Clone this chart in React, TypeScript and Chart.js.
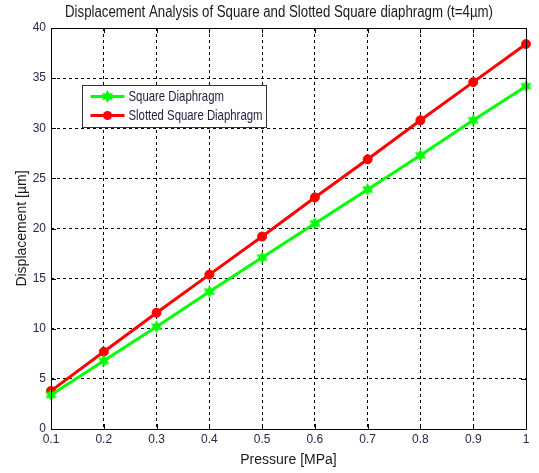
import React, { useEffect, useRef } from 'react';
import { Chart, registerables } from 'chart.js';
Chart.register(...registerables);

const pressureLabels = ['0.1', '0.2', '0.3', '0.4', '0.5', '0.6', '0.7', '0.8', '0.9', '1'];
const squareDiaphragm = [3.4, 6.8, 10.2, 13.7, 17.1, 20.5, 23.9, 27.3, 30.8, 34.2];
const slottedSquareDiaphragm = [3.8, 7.7, 11.6, 15.4, 19.2, 23.1, 26.9, 30.8, 34.6, 38.4];
const yMin = 0;
const yMax = 40;
const yStep = 5;

const titleText = 'Displacement Analysis of Square and Slotted Square diaphragm (t=4\u00b5m)';
const xTitle = 'Pressure [MPa]';
const yTitle = 'Displacement [\u00b5m]';
const seriesNames = ['Square Diaphragm', 'Slotted Square Diaphragm'];
const GREEN = '#00ff00';
const RED = '#ff0000';
const FONT = '"Liberation Sans", Arial, sans-serif';

function makeHexagram(color: string, r: number) {
  const c = document.createElement('canvas');
  const s = Math.ceil(r * 2 + 2);
  c.width = s;
  c.height = s;
  const ctx = c.getContext('2d')!;
  ctx.fillStyle = color;
  ctx.beginPath();
  for (let i = 0; i < 12; i++) {
    const rad = i % 2 === 0 ? r : r * 0.55;
    const a = -Math.PI / 2 + (i * Math.PI) / 6;
    const x = s / 2 + rad * Math.cos(a);
    const y = s / 2 + rad * Math.sin(a);
    if (i === 0) ctx.moveTo(x, y);
    else ctx.lineTo(x, y);
  }
  ctx.closePath();
  ctx.fill();
  return c;
}

// draw text horizontally condensed to a target width
function drawCondensed(ctx: CanvasRenderingContext2D, text: string, x: number, y: number, sx: number, align: 'left' | 'center') {
  ctx.save();
  ctx.translate(x, y);
  ctx.scale(sx, 1);
  ctx.textAlign = align;
  ctx.textBaseline = 'middle';
  ctx.fillText(text, 0, 0);
  ctx.restore();
}

const titlePlugin = {
  id: 'customTitle',
  afterDraw(chart: any) {
    const { ctx } = chart;
    ctx.save();
    ctx.fillStyle = '#1a1a1a';
    ctx.font = '16px ' + FONT;
    const w = ctx.measureText(titleText).width;
    drawCondensed(ctx, titleText, 279, 13, 428 / w, 'center');
    ctx.restore();
  },
};

const framePlugin = {
  id: 'matlabFrame',
  afterDatasetsDraw(chart: any) {
    const { ctx, chartArea } = chart;
    const { left, right, top, bottom } = chartArea;
    const xs = chart.scales.x;
    const ys = chart.scales.y;
    ctx.save();
    ctx.strokeStyle = '#000';
    ctx.lineWidth = 1;
    ctx.beginPath();
    ctx.rect(Math.round(left) + 0.5, Math.round(top) + 0.5, Math.round(right - left), Math.round(bottom - top));
    ctx.stroke();
    const tl = 5;
    ctx.beginPath();
    xs.ticks.forEach((_t: any, i: number) => {
      const x = Math.round(xs.getPixelForTick(i)) + 0.5;
      ctx.moveTo(x, top);
      ctx.lineTo(x, top + tl);
      ctx.moveTo(x, bottom);
      ctx.lineTo(x, bottom - tl);
    });
    ys.ticks.forEach((_t: any, i: number) => {
      const y = Math.round(ys.getPixelForTick(i)) + 0.5;
      ctx.moveTo(left, y);
      ctx.lineTo(left + tl, y);
      ctx.moveTo(right, y);
      ctx.lineTo(right - tl, y);
    });
    ctx.stroke();
    ctx.restore();
  },
};

const legendPlugin = {
  id: 'insideLegend',
  afterDraw(chart: any) {
    const { ctx } = chart;
    const bx = 82.5, by = 85.5, bw = 184, bh = 42;
    ctx.save();
    ctx.fillStyle = '#fff';
    ctx.fillRect(bx, by, bw, bh);
    ctx.strokeStyle = '#333';
    ctx.lineWidth = 1;
    ctx.strokeRect(bx, by, bw, bh);
    ctx.font = '15px ' + FONT;
    const sx = 134 / ctx.measureText(seriesNames[1]).width;
    const rows = [by + 11, by + 30];
    chart.data.datasets.forEach((ds: any, i: number) => {
      const y = rows[i];
      ctx.strokeStyle = ds.borderColor;
      ctx.lineWidth = 3;
      ctx.beginPath();
      ctx.moveTo(bx + 8, y);
      ctx.lineTo(bx + 42, y);
      ctx.stroke();
      const ps = ds.pointStyle;
      if (ps && typeof ps !== 'string') {
        ctx.drawImage(ps, bx + 25 - ps.width / 2, y - ps.height / 2);
      } else {
        ctx.fillStyle = ds.backgroundColor;
        ctx.beginPath();
        ctx.arc(bx + 25, y, 4.5, 0, Math.PI * 2);
        ctx.fill();
      }
      ctx.fillStyle = '#1e1e3c';
      drawCondensed(ctx, ds.label, bx + 46, y, sx, 'left');
    });
    ctx.restore();
  },
};

export default function App() {
  const ref = useRef<HTMLCanvasElement>(null);
  useEffect(() => {
    document.body.style.margin = '0';
    const star = makeHexagram(GREEN, 6.5);
    const chart = new Chart(ref.current!, {
      type: 'line',
      data: {
        labels: pressureLabels,
        datasets: [
          {
            label: seriesNames[0],
            data: squareDiaphragm,
            borderColor: GREEN,
            backgroundColor: GREEN,
            borderWidth: 3,
            pointStyle: star as any,
            pointRadius: 6,
          },
          {
            label: seriesNames[1],
            data: slottedSquareDiaphragm,
            borderColor: RED,
            backgroundColor: RED,
            borderWidth: 3,
            pointStyle: 'circle',
            pointRadius: 4.5,
            pointBorderWidth: 1,
          },
        ],
      },
      options: {
        animation: false,
        responsive: false,
        layout: { padding: { left: 0, right: 13, top: 28, bottom: 0 } },
        plugins: {
          legend: { display: false },
          tooltip: { enabled: false },
          title: { display: false },
        },
        scales: {
          x: {
            type: 'category',
            offset: false,
            afterFit(scale: any) {
              scale.height = 44;
            },
            grid: { color: '#000', lineWidth: 1, drawTicks: false },
            border: { display: false, dash: [3, 3] },
            ticks: {
              color: '#262650',
              font: { family: FONT, size: 12 },
              padding: 3,
              maxRotation: 0,
              autoSkip: false,
            },
            title: {
              display: true,
              text: xTitle,
              color: '#1a1a1a',
              font: { family: FONT, size: 14 },
              padding: { top: 0, bottom: 4 },
            },
          },
          y: {
            min: yMin,
            max: yMax,
            afterFit(scale: any) {
              scale.width = 51;
            },
            grid: { color: '#000', lineWidth: 1, drawTicks: false },
            border: { display: false, dash: [3, 3] },
            ticks: {
              stepSize: yStep,
              color: '#262650',
              font: { family: FONT, size: 12 },
              padding: 5,
            },
            title: {
              display: true,
              text: yTitle,
              color: '#1a1a1a',
              font: { family: FONT, size: 14 },
              padding: { top: 13.6, bottom: 0 },
            },
          },
        },
      },
      plugins: [framePlugin, legendPlugin, titlePlugin],
    });
    return () => chart.destroy();
  }, []);
  return (
    <div style={{ position: 'fixed', left: 0, top: 0, width: 539, height: 473, background: '#fff' }}>
      <canvas ref={ref} width={539} height={473} />
    </div>
  );
}
